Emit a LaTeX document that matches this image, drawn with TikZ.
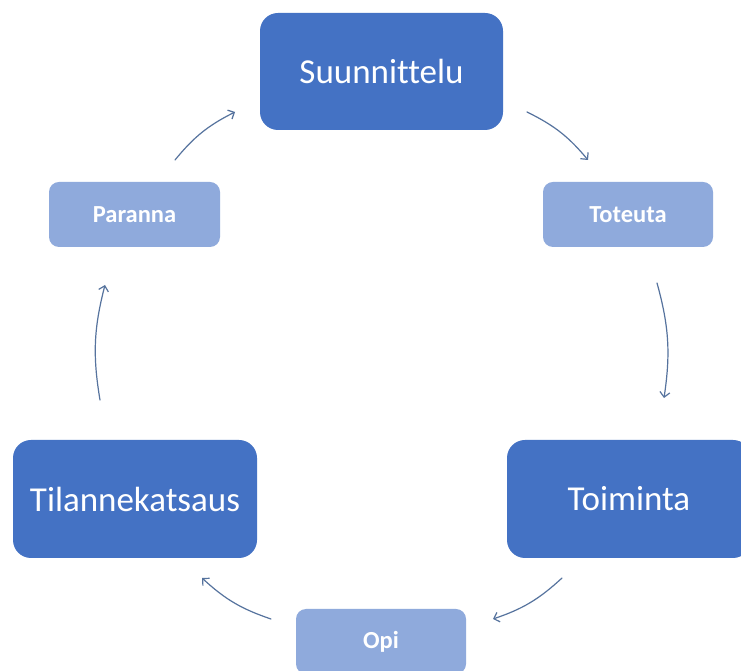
\documentclass[tikz,border=0pt]{standalone}
\usepackage{fontspec}
\setmainfont[Ligatures=NoCommon]{Carlito}
\usetikzlibrary{arrows.meta}
\definecolor{darkbox}{HTML}{4472C4}
\definecolor{lightbox}{HTML}{8FAADC}
\definecolor{flowc}{HTML}{56739E}
\tikzset{
  bigbox/.style={rectangle, rounded corners=18pt, fill=darkbox, draw=none,
    text=white, minimum width=243pt, minimum height=117pt, inner sep=0pt,
    font=\fontsize{35}{42}\selectfont},
  smallbox/.style={rectangle, rounded corners=10pt, fill=lightbox, draw=none,
    text=white, minimum width=170pt, minimum height=65pt, inner sep=0pt,
    font=\fontsize{24.5}{29}\selectfont\bfseries},
  flow/.style={draw=flowc, line width=1.2pt, line cap=round,
    -{Straight Barb[length=5pt,width=10pt,line width=1.2pt]}, bend left=12}
}
\begin{document}
\begin{tikzpicture}[x=1pt,y=1pt]
\useasboundingbox (0,0) rectangle (741,671);
\fill[white] (0,0) rectangle (741,671);
\clip (0,0) rectangle (741,671);
\node[bigbox] (S) at (381.5,599.5) {Suunnittelu};
\node[smallbox] (T) at (628,456.5) {Toteuta};
\node[bigbox, minimum width=244pt, minimum height=118pt] (A) at (629,172) {Toiminta};
\node[smallbox] (O) at (381,29.5) {Opi};
\node[bigbox, minimum width=244pt, minimum height=118pt] (K) at (135,172) {Tilannekatsaus};
\node[smallbox, minimum width=171pt] (P) at (134.5,456.5) {Paranna};
% connector end points
\coordinate (st1) at (527,559); \coordinate (st2) at (588,511);
\coordinate (ta1) at (657,388); \coordinate (ta2) at (664,273);
\coordinate (ao1) at (562,93);  \coordinate (ao2) at (493,52);
\coordinate (ok1) at (271,52);  \coordinate (ok2) at (202,93);
\coordinate (kp1) at (100,271); \coordinate (kp2) at (105,386);
\coordinate (ps1) at (175,511); \coordinate (ps2) at (235,559);
\draw[flow] (st1) to (st2);
\draw[flow] (ta1) to (ta2);
\draw[flow] (ao1) to (ao2);
\draw[flow] (ok1) to (ok2);
\draw[flow] (kp1) to (kp2);
\draw[flow] (ps1) to (ps2);
\end{tikzpicture}
\end{document}
